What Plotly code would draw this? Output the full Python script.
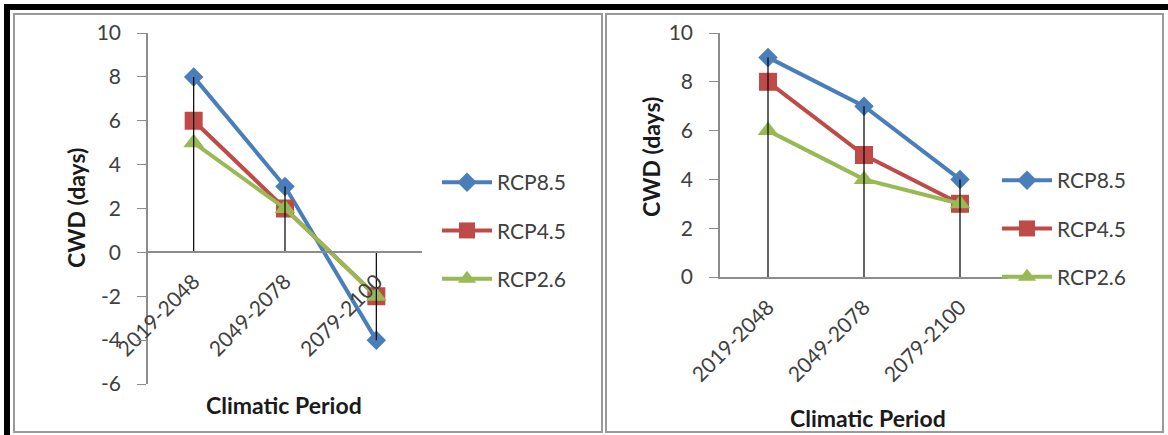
import plotly.graph_objects as go

# ---------------- data ----------------
categories = ["2019-2048", "2049-2078", "2079-2100"]
series_names = ["RCP8.5", "RCP4.5", "RCP2.6"]

left_rcp85 = [8, 3, -4]
left_rcp45 = [6, 2, -2]
left_rcp26 = [5, 2, -2]

right_rcp85 = [9, 7, 4]
right_rcp45 = [8, 5, 3]
right_rcp26 = [6, 4, 3]

left_ticks = [-6, -4, -2, 0, 2, 4, 6, 8, 10]
right_ticks = [0, 2, 4, 6, 8, 10]

y_title = "CWD (days)"
x_title = "Climatic Period"

# ---------------- style ----------------
W, H = 1168, 435
colors = ["#4a7ebb", "#be4b48", "#98b954"]
symbols = ["diamond", "square", "triangle-up"]
msizes = [15, 18, 18]
FONT = "Lato"
TICK_COLOR = "#404040"
AX_COLOR = "#8c8c8c"


def px_x(x):
    return x / W


def px_y(y):
    return 1 - y / H


fig = go.Figure()

panels = [
    dict(data=[left_rcp85, left_rcp45, left_rcp26], xa="x", ya="y", legend="legend"),
    dict(data=[right_rcp85, right_rcp45, right_rcp26], xa="x2", ya="y2", legend="legend2"),
]

for p in panels:
    for i, vals in enumerate(p["data"]):
        fig.add_trace(go.Scatter(
            x=categories, y=vals, name=series_names[i],
            mode="lines+markers",
            line=dict(color=colors[i], width=4),
            marker=dict(symbol=symbols[i], size=msizes[i], color=colors[i]),
            xaxis=p["xa"], yaxis=p["ya"], legend=p["legend"],
            legendgroup=p["legend"] + str(i),
        ))
    # drop lines: from the most extreme point of each category to zero
    dx, dy = [], []
    for j, c in enumerate(categories):
        vals = [s[j] for s in p["data"]]
        ext = max(vals, key=abs)
        dx += [c, c, None]
        dy += [ext, 0, None]
    fig.add_trace(go.Scatter(
        x=dx, y=dy, mode="lines", line=dict(color="black", width=1.2),
        showlegend=False, hoverinfo="skip", xaxis=p["xa"], yaxis=p["ya"],
    ))

tickfont = dict(family=FONT, size=21, color=TICK_COLOR)

L_x0, L_x1 = 148, 422
L_ytop, L_ybot = 33, 384
R_x0, R_x1 = 720, 1008
R_ytop, R_ybot = 33, 277

zero_left = L_ytop + (L_ybot - L_ytop) * 10 / 16

common_x = dict(type="category", range=[-0.5, 2.5], showline=True, linecolor=AX_COLOR,
                linewidth=1.5, ticks="", tickangle=-45, tickfont=tickfont,
                showgrid=False, zeroline=False, ticklabelstandoff=8, automargin=False)
common_y = dict(showline=True, linecolor=AX_COLOR, linewidth=1.5,
                ticks="outside", ticklen=9, tickcolor=AX_COLOR, tickfont=tickfont,
                showgrid=False, zeroline=False, ticklabelstandoff=12, automargin=False)

fig.update_layout(
    template="none",
    width=W, height=H, margin=dict(l=0, r=0, t=0, b=0, pad=0), autosize=False,
    paper_bgcolor="white", plot_bgcolor="white",
    font=dict(family=FONT),
    xaxis=dict(domain=[px_x(L_x0), px_x(L_x1)], anchor="free", position=px_y(zero_left),
               **common_x),
    yaxis=dict(domain=[px_y(L_ybot), px_y(L_ytop)], anchor="x", range=[-6, 10],
               tickvals=left_ticks, ticktext=[str(v) for v in left_ticks], **common_y),
    xaxis2=dict(domain=[px_x(R_x0), px_x(R_x1)], anchor="y2", **common_x),
    yaxis2=dict(domain=[px_y(R_ybot), px_y(R_ytop)], anchor="x2", range=[0, 10],
                tickvals=right_ticks, ticktext=[str(v) for v in right_ticks], **common_y),
    legend=dict(x=px_x(437), y=px_y(162), xanchor="left", yanchor="top",
                font=dict(family=FONT, size=21, color=TICK_COLOR),
                bgcolor="rgba(0,0,0,0)", tracegroupgap=18, itemwidth=50),
    legend2=dict(x=px_x(997), y=px_y(160), xanchor="left", yanchor="top",
                 font=dict(family=FONT, size=21, color=TICK_COLOR),
                 bgcolor="rgba(0,0,0,0)", tracegroupgap=18, itemwidth=50),
    showlegend=True,
)

ann_font = dict(family=FONT, size=23, color="#1a1a1a")
for (x, y, txt, ang) in [(76, 208, "<b>" + y_title + "</b>", -90),
                          (651, 157, "<b>" + y_title + "</b>", -90),
                          (284, 405, "<b>" + x_title + "</b>", 0),
                          (868, 418, "<b>" + x_title + "</b>", 0)]:
    fig.add_annotation(x=px_x(x), y=px_y(y), xref="paper", yref="paper", text=txt,
                       showarrow=False, textangle=ang, font=ann_font,
                       xanchor="center", yanchor="middle")

# frame decoration
shapes = []
shapes.append(dict(type="rect", x0=px_x(4), x1=1, y0=px_y(10), y1=px_y(4),
                   fillcolor="black", line=dict(width=0)))
shapes.append(dict(type="rect", x0=px_x(4), x1=px_x(10), y0=0, y1=px_y(4),
                   fillcolor="black", line=dict(width=0)))
gray = dict(color="#9a9a9a", width=2)
for (x0, y0, x1, y1) in [(14, 14, 602, 432), (606, 14, 1163, 432)]:
    shapes.append(dict(type="rect", x0=px_x(x0), x1=px_x(x1), y0=px_y(y1), y1=px_y(y0),
                       line=gray, fillcolor="rgba(0,0,0,0)"))
for s in shapes:
    s.update(xref="paper", yref="paper", layer="below")
fig.update_layout(shapes=shapes)

fig.write_html("out.html")
